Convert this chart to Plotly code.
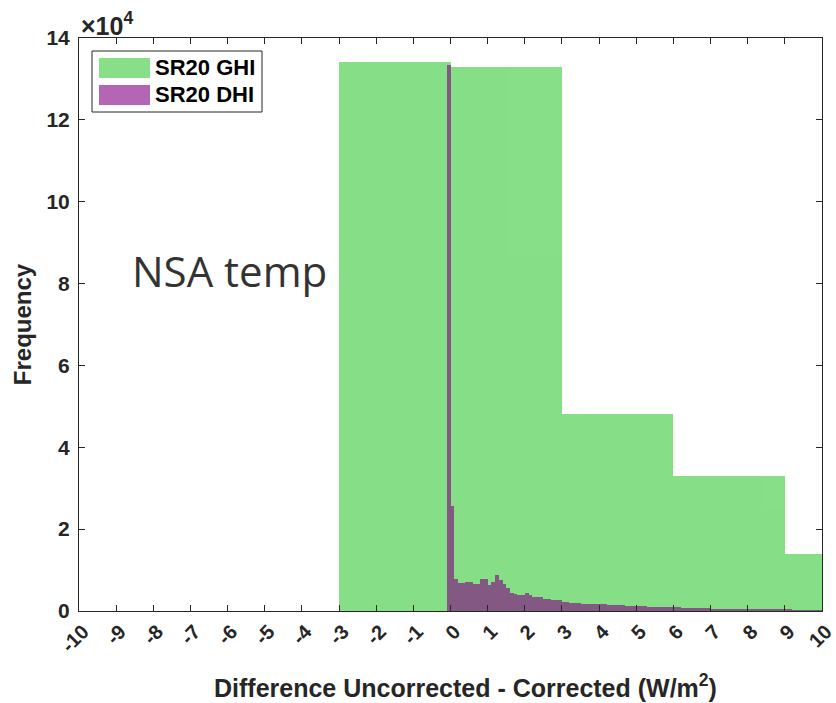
import plotly.graph_objects as go

# ---- data ----
ghi_bin_start = -3.0
ghi_bin_width = 3.0
ghi_counts = [134200, 132900, 48100, 33000, 13900]

dhi_bin_start = -0.1
dhi_bin_width = 0.1
dhi_counts = [
    133400, 25700, 7700, 6800, 6800, 7000, 7100, 6700, 6600, 7800,
    7900, 6400, 7200, 8900, 7600, 6600, 5700, 4500, 4200, 4000,
    3900, 4400, 4000, 3500, 3300, 3400, 3000, 2900, 2800, 2800,
    2600, 2200, 2100, 2000, 1900, 1900, 1800, 1800, 1700, 1700,
    1600, 1700, 1600, 1500, 1500, 1400, 1400, 1400, 1300, 1300,
    1300, 1300, 1200, 1200, 1100, 1100, 1100, 1000, 1000, 1000,
    900, 900, 900, 800, 800, 800, 800, 700, 700, 700,
    700, 600, 600, 600, 600, 500, 500, 500, 500, 500,
    400, 400, 400, 400, 400, 400, 300, 300, 300, 300,
    300, 300, 300, 200, 200, 200, 200, 200, 200, 200, 200,
]

series_names = ["SR20 GHI", "SR20 DHI"]
series_colors = ["rgb(55,203,55)", "rgb(130,0,130)"]

x_ticks = list(range(-10, 11))
y_ticks = [0, 20000, 40000, 60000, 80000, 100000, 120000, 140000]
y_tick_labels = ["0", "2", "4", "6", "8", "10", "12", "14"]

x_title = "Difference Uncorrected - Corrected (W/m<sup>2</sup>)"
y_title = "Frequency"

ghi_x = [ghi_bin_start + ghi_bin_width * (i + 0.5) for i in range(len(ghi_counts))]
dhi_x = [dhi_bin_start + dhi_bin_width * (i + 0.5) for i in range(len(dhi_counts))]

axis_color = "#262626"
font_family = "Liberation Sans, Arial, sans-serif"

fig = go.Figure()
fig.add_trace(go.Bar(
    x=ghi_x, y=ghi_counts, width=[ghi_bin_width] * len(ghi_counts),
    name=series_names[0], marker=dict(color=series_colors[0], line=dict(width=0)),
    opacity=0.6, showlegend=False,
))
fig.add_trace(go.Bar(
    x=dhi_x, y=dhi_counts, width=[dhi_bin_width] * len(dhi_counts),
    name=series_names[1], marker=dict(color=series_colors[1], line=dict(width=0)),
    opacity=0.6, showlegend=False,
))

# body margin is removed in the page (post_script), so figure px == screen px
W, H = 836, 703
# target plot box: x 79..822, y 38..611
ML, MT = 79, 38
MR = W - 822
MB = H - 611
PW, PH = W - ML - MR, H - MT - MB


def px_to_paper(x, y):
    """screen pixel -> paper coords"""
    return (x - ML) / PW, 1 - (y - MT) / PH


fig.update_layout(
    width=W, height=H,
    margin=dict(l=ML, r=MR, t=MT, b=MB, autoexpand=False),
    paper_bgcolor="white", plot_bgcolor="white",
    barmode="overlay", bargap=0,
    font=dict(family=font_family, color=axis_color),
    showlegend=False,
)

fig.update_xaxes(
    range=[-10, 10], tickmode="array", tickvals=x_ticks,
    ticktext=[str(v) for v in x_ticks], tickangle=-45,
    ticks="inside", ticklen=6, tickcolor=axis_color,
    showline=True, linecolor=axis_color, linewidth=1, mirror="ticks",
    showgrid=False, zeroline=False, automargin=False, ticklabelshift=4,
    ticklabeloverflow="allow",
    tickfont=dict(size=20, weight="bold", color=axis_color),
)
fig.update_yaxes(
    range=[0, 140000], tickmode="array", tickvals=y_ticks, ticktext=y_tick_labels,
    ticks="inside", ticklen=6, tickcolor=axis_color,
    showline=True, linecolor=axis_color, linewidth=1, mirror="ticks",
    showgrid=False, zeroline=False, automargin=False, ticklabelstandoff=4,
    tickfont=dict(size=21, weight="bold", color=axis_color),
    title=dict(text=y_title, font=dict(size=24, weight="bold", color=axis_color), standoff=8),
)

# x-axis title (placed as annotation to match reference centering)
tx, ty = px_to_paper(465, 686)
fig.add_annotation(
    xref="paper", yref="paper", x=tx, y=ty, xanchor="center", yanchor="middle",
    text=x_title, showarrow=False,
    font=dict(size=25, weight="bold", color=axis_color),
)

# exponent label
fig.add_annotation(
    xref="paper", yref="paper", x=0.0, y=1.0, xanchor="left", yanchor="bottom",
    text="×10<sup>4</sup>", showarrow=False, yshift=-4,
    font=dict(size=25, weight="bold", color=axis_color),
)

# custom legend (box, wide swatches, labels)
bx0, by1 = px_to_paper(92, 51)
bx1, by0 = px_to_paper(262, 112)
fig.add_shape(type="rect", xref="paper", yref="paper", x0=bx0, x1=bx1, y0=by0, y1=by1,
              line=dict(color=axis_color, width=1), fillcolor="white", layer="above")
swatch_rows = [(58, 78), (85, 105)]
for name, color, (ya, yb) in zip(series_names, series_colors, swatch_rows):
    sx0, sy1 = px_to_paper(99, ya)
    sx1, sy0 = px_to_paper(150, yb)
    fig.add_shape(type="rect", xref="paper", yref="paper", x0=sx0, x1=sx1, y0=sy0, y1=sy1,
                  line=dict(width=0), fillcolor=color, opacity=0.6, layer="above")
    lx, ly = px_to_paper(153, (ya + yb) / 2)
    fig.add_annotation(xref="paper", yref="paper", x=lx, y=ly, xanchor="left", yanchor="middle",
                       text=name, showarrow=False,
                       font=dict(size=22, weight="bold", color="black"))

fig.add_annotation(
    xref="x", yref="y", x=-5.95, y=83300, xanchor="center", yanchor="middle",
    text="NSA temp", showarrow=False,
    font=dict(size=42, family="Open Sans, Noto Sans, sans-serif", color="#333333"),
)

fig.write_html("out.html",
               config={"displayModeBar": False},
               post_script="document.body.style.margin='0px';document.body.style.overflow='hidden';")
